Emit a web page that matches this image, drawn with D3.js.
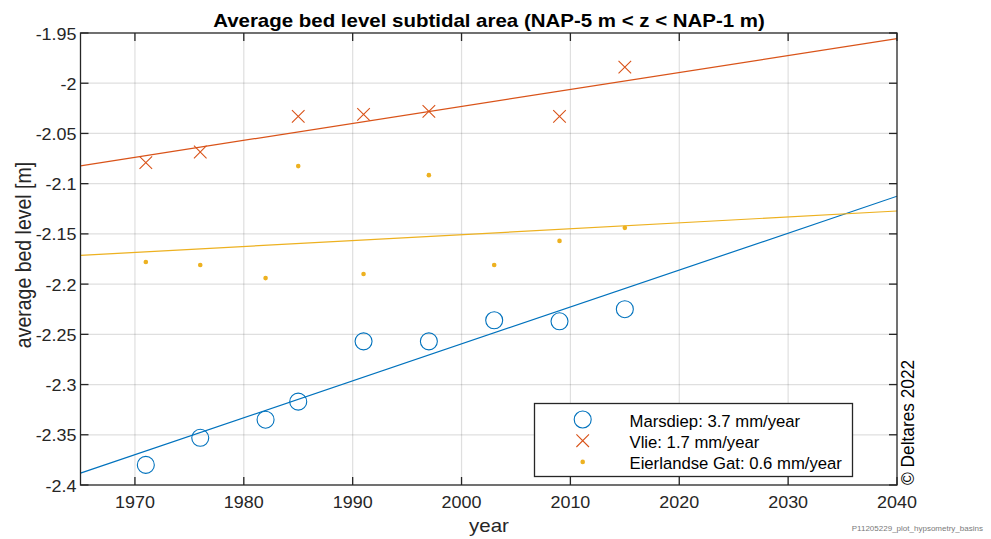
<!DOCTYPE html>
<html>
<head>
<meta charset="utf-8">
<script src="https://cdn.jsdelivr.net/npm/d3@7"></script>
<style>
  html, body { margin: 0; padding: 0; background: #fff; }
  svg { display: block; font-family: "Liberation Sans", Arial, sans-serif; }
</style>
</head>
<body>
<svg id="chart" width="991" height="539"></svg>
<script>
// Survey years and average bed level (m w.r.t. NAP) per tidal basin
const marsdiepYears = [1971, 1976, 1982, 1985, 1991, 1997, 2003, 2009, 2015];
const marsdiepLevel = [-2.380, -2.353, -2.335, -2.317, -2.257, -2.257, -2.236, -2.237, -2.225];

const vlieYears = [1971, 1976, 1985, 1991, 1997, 2009, 2015];
const vlieLevel = [-2.079, -2.0685, -2.033, -2.031, -2.028, -2.033, -1.984];

const eierlandYears = [1971, 1976, 1982, 1985, 1991, 1997, 2003, 2009, 2015];
const eierlandLevel = [-2.178, -2.181, -2.194, -2.0825, -2.190, -2.0915, -2.181, -2.157, -2.144];

const xTicks = [1970, 1980, 1990, 2000, 2010, 2020, 2030, 2040];
const yTicks = [-1.95, -2, -2.05, -2.1, -2.15, -2.2, -2.25, -2.3, -2.35, -2.4];
const xDomain = [1965, 2040];
const yDomain = [-2.4, -1.95];

const svg = d3.select("#chart");
const m = { left: 80.5, right: 897, top: 33, bottom: 485 };
const x = d3.scaleLinear().domain(xDomain).range([m.left, m.right]);
const y = d3.scaleLinear().domain(yDomain).range([m.bottom, m.top]);
const ink = "#262626";
const SX = 1.1; // horizontal stretch of the axis text

// least-squares linear trend
function fit(xs, ys) {
  const mx = d3.mean(xs), my = d3.mean(ys);
  let sxy = 0, sxx = 0;
  xs.forEach((v, i) => { sxy += (v - mx) * (ys[i] - my); sxx += (v - mx) * (v - mx); });
  const b = sxy / sxx;
  return { slope: b, at: t => my + b * (t - mx) };
}

const series = [
  { name: "Marsdiep", years: marsdiepYears, level: marsdiepLevel, color: "#0072BD", marker: "circle" },
  { name: "Vlie", years: vlieYears, level: vlieLevel, color: "#D95319", marker: "cross" },
  { name: "Eierlandse Gat", years: eierlandYears, level: eierlandLevel, color: "#EDB120", marker: "dot" }
];
series.forEach(s => { s.trend = fit(s.years, s.level); });

function label(parent, tx, ty, str, opts = {}) {
  const sx = opts.sx !== undefined ? opts.sx : SX;
  return parent.append("text")
    .attr("transform", `translate(${tx},${ty}) scale(${sx},1)${opts.rotate ? ` rotate(${opts.rotate})` : ""}`)
    .attr("text-anchor", opts.anchor || "start")
    .attr("font-size", opts.size || 16.3)
    .attr("font-weight", opts.weight || "normal")
    .attr("fill", opts.fill || ink)
    .text(str);
}

// grid
const grid = svg.append("g").attr("stroke", ink).attr("stroke-opacity", 0.15).attr("stroke-width", 1.2);
grid.selectAll(".gx").data(xTicks.filter(t => t > xDomain[0] && t < xDomain[1])).join("line")
  .attr("x1", d => x(d)).attr("x2", d => x(d)).attr("y1", m.top).attr("y2", m.bottom);
grid.selectAll(".gy").data(yTicks.filter(t => t > yDomain[0] && t < yDomain[1])).join("line")
  .attr("y1", d => y(d)).attr("y2", d => y(d)).attr("x1", m.left).attr("x2", m.right);

// clip region for trend lines
svg.append("clipPath").attr("id", "plotclip").append("rect")
  .attr("x", m.left).attr("y", m.top).attr("width", m.right - m.left).attr("height", m.bottom - m.top);

// trend lines
const lines = svg.append("g").attr("clip-path", "url(#plotclip)");
series.forEach(s => {
  lines.append("line")
    .attr("x1", x(xDomain[0])).attr("y1", y(s.trend.at(xDomain[0])))
    .attr("x2", x(xDomain[1])).attr("y2", y(s.trend.at(xDomain[1])))
    .attr("stroke", s.color).attr("stroke-width", 1.2);
});

function drawMarker(g, type, cx, cy, color) {
  if (type === "circle") {
    g.append("circle").attr("cx", cx).attr("cy", cy).attr("r", 8.5)
      .attr("fill", "none").attr("stroke", color).attr("stroke-width", 1.1);
  } else if (type === "cross") {
    const h = 6.3;
    g.append("path").attr("d", `M${cx - h},${cy - h}L${cx + h},${cy + h}M${cx - h},${cy + h}L${cx + h},${cy - h}`)
      .attr("stroke", color).attr("stroke-width", 1.1).attr("fill", "none");
  } else {
    g.append("circle").attr("cx", cx).attr("cy", cy).attr("r", 2.3).attr("fill", color);
  }
}

// data markers
const marks = svg.append("g");
series.forEach(s => {
  s.years.forEach((yr, i) => drawMarker(marks, s.marker, x(yr), y(s.level[i]), s.color));
});

// axes box with inward ticks
const axes = svg.append("g").attr("stroke", ink).attr("stroke-width", 1.3);
axes.append("rect").attr("x", m.left).attr("y", m.top)
  .attr("width", m.right - m.left).attr("height", m.bottom - m.top).attr("fill", "none");
const tl = 8;
xTicks.forEach(t => {
  axes.append("line").attr("x1", x(t)).attr("x2", x(t)).attr("y1", m.bottom).attr("y2", m.bottom - tl);
  axes.append("line").attr("x1", x(t)).attr("x2", x(t)).attr("y1", m.top).attr("y2", m.top + tl);
});
yTicks.forEach(t => {
  axes.append("line").attr("y1", y(t)).attr("y2", y(t)).attr("x1", m.left).attr("x2", m.left + tl);
  axes.append("line").attr("y1", y(t)).attr("y2", y(t)).attr("x1", m.right).attr("x2", m.right - tl);
});

// tick labels
const yl = svg.append("g");
yTicks.forEach(t => label(yl, m.left - 4, y(t) + 6.5, String(t), { anchor: "end" }));
const xl = svg.append("g");
xTicks.forEach(t => label(xl, x(t), m.bottom + 23, String(t), { anchor: "middle" }));

// titles
label(svg, 489, 26.5, "Average bed level subtidal area (NAP-5 m < z < NAP-1 m)",
  { anchor: "middle", size: 18.6, weight: "bold", fill: "#000" });
label(svg, 31, 255, "average bed level [m]", { anchor: "middle", size: 19.5, rotate: -90 });
label(svg, 489, 531.5, "year", { anchor: "middle", size: 18.6 });

// legend
const lg = svg.append("g");
lg.append("rect").attr("x", 534.5).attr("y", 403.5).attr("width", 318).attr("height", 73)
  .attr("fill", "#fff").attr("stroke", ink).attr("stroke-width", 1.3);
series.forEach((s, i) => {
  const base = 427 + i * 21.2;
  drawMarker(lg, s.marker, 582.7, base - 7.5, s.color);
  label(lg, 629.5, base, `${s.name}: ${(s.trend.slope * 1000).toFixed(1)} mm/year`,
    { size: 16.7, fill: "#000", sx: 1 });
});

// copyright and file tag
label(svg, 913.5, 485, "© Deltares 2022", { size: 17.3, fill: "#000", rotate: -90 });
label(svg, 983, 531, "P11205229_plot_hypsometry_basins", { anchor: "end", size: 7.3, fill: "#7a7a7a" });
</script>
</body>
</html>
